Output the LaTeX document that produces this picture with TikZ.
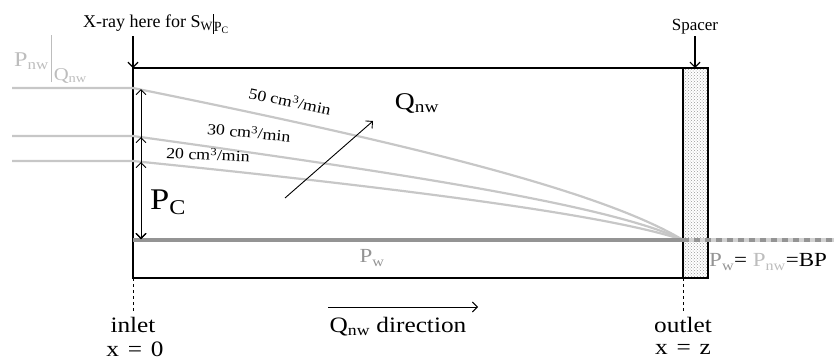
\documentclass[tikz,border=0pt]{standalone}
\usepackage{fontspec}
\setmainfont{Liberation Serif}
\newfontfamily\wide[FakeStretch=1.15]{Liberation Serif}
\usepackage{xcolor}
\usetikzlibrary{patterns,arrows.meta}

\definecolor{flowgray}{gray}{0.78}
\definecolor{wgray}{gray}{0.58}
\definecolor{nwgray}{gray}{0.74}

\newcommand{\fs}[1]{\fontsize{#1}{#1}\selectfont}

\begin{document}
\begin{tikzpicture}[x=1pt,y=-1pt, >={Straight Barb[length=5pt,width=10pt]}]
    \useasboundingbox (0,0) rectangle (834,362);
    \tikzset{
        wall/.style={line width=2pt},
        flow/.style={flowgray, line width=2.2pt},
        guide/.style={dashed, line width=1pt},
        thin arrow/.style={->, line width=0.9pt},
    }
    % corners of the core
    \coordinate (inTop) at (133,68);
    \coordinate (inBot) at (133,278);
    \coordinate (outTop) at (683,68);
    \coordinate (outBot) at (683,278);
    \coordinate (spTop) at (695,68);
    \coordinate (base) at (141,239);
    \coordinate (outPt) at (683,240);

    % Spacer
    \draw[wall, pattern=crosshatch dots, pattern color=gray!80] (683,68) rectangle (708,278);

    % Core
    \draw[wall] (708,68) -- (inTop) -- (inBot) -- (708,278);

    % flow curves
    \coordinate (f50) at (133,88);
    \coordinate (f30) at (133,136);
    \coordinate (f20) at (133,161);
    \draw[flow] (12,88) -- (f50) .. controls (400,142) and (600,190) .. (outPt);
    \draw[flow] (12,136) -- (f30) .. controls (400,173) and (610,205) .. (outPt);
    \draw[flow] (12,161) -- (f20) .. controls (400,188) and (610,215) .. (outPt);
    \node[rotate=-12] (l50) at (290,101) {\wide\fs{15.5}50 cm\textsuperscript{3}/min};
    \node[rotate=-5.5] (l30) at (249,132) {\wide\fs{15.5}30 cm\textsuperscript{3}/min};
    \node[rotate=-2.5] (l20) at (208,154) {\wide\fs{15.5}20 cm\textsuperscript{3}/min};

    % water pressure line
    \draw[wgray, line width=4pt] (133,240) -- (outPt);
    \draw[nwgray!70, line width=4pt] (outPt) -- (834,240);
    \draw[wgray, line width=4pt, dash pattern=on 6pt off 5pt] (outPt) -- (834,240);
    \node[wgray] (pw) at (372,258) {\wide\fs{20}P\textsubscript{w}};
    \node[anchor=west, inner sep=1pt] (bp) at (708,262) {\wide\fs{20}{\color{wgray}P\textsubscript{w}}= {\color{nwgray}P\textsubscript{nw}}=BP};

    % capillary pressure
    \draw[<->, line width=0.9pt] (base) -- (141,89);
    \draw[<->, line width=0.9pt] (base) -- (141,137);
    \draw[<->, line width=0.9pt] (base) -- (141,162);
    \node (pc) at (168,202) {\wide\fs{30}P\textsubscript{C}};

    % Qnw
    \node (q) at (417,103) {\wide\fs{24}Q\textsubscript{nw}};
    \coordinate (qfoot) at (285,198);
    \draw[thin arrow] (qfoot) -- (373,121);

    % top labels
    \node[anchor=south, inner sep=2pt] (xray) at (156,36) {\fs{18}X-ray here for S\textsubscript{W}\rule[-6pt]{0.9pt}{20pt}\raisebox{-4pt}{\fs{14}P\textsubscript{C}}};
    \draw[->, line width=1.2pt] (xray.south -| inTop) -- (inTop);
    \node[anchor=south, inner sep=2pt] (spacer) at (695,36) {\fs{17}Spacer};
    \draw[->, line width=1.2pt] (spacer.south) -- (spTop);
    \node[nwgray, anchor=base west, inner sep=0pt] (pnw) at (14,66) {\wide\fs{21}P\textsubscript{nw}\hspace{2pt}\rule[-16pt]{1pt}{47pt}\hspace{2pt}\raisebox{-14pt}{\fs{18}Q\textsubscript{nw}}};

    % inlet / outlet
    \draw[guide] (inBot) -- (133,312);
    \draw[guide] (outBot) -- (683,312);
    \node (inlet) at (133,325) {\wide\fs{22}inlet};
    \node (x0) at (135,349) {\wide\fs{22}x\hspace{0.4em}=\hspace{0.4em}0};
    \node (outlet) at (683,325) {\wide\fs{22}outlet};
    \node (xz) at (683,349) {\wide\fs{22}x\hspace{0.4em}=\hspace{0.4em}z};

    % direction
    \coordinate (dirA) at (328,307);
    \coordinate (dirB) at (478,307);
    \draw[thin arrow] (dirA) -- (dirB);
    \node (dir) at (398,327) {\wide\fs{22}Q\textsubscript{nw} direction};
\end{tikzpicture}
\end{document}
